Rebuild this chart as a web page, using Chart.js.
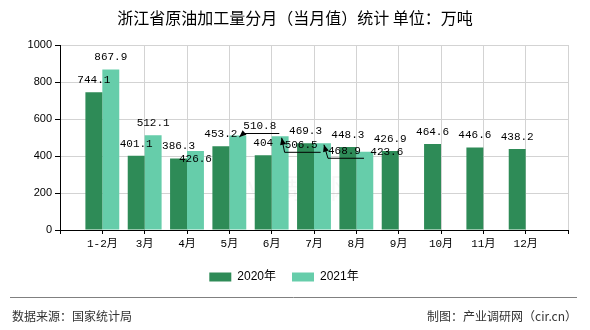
<!DOCTYPE html>
<html>
<head>
<meta charset="utf-8">
<script src="https://cdn.jsdelivr.net/npm/chart.js@4/dist/chart.umd.min.js"></script>
<style>
  html, body { margin: 0; padding: 0; background: #fff; }
</style>
</head>
<body>
<canvas id="chart" width="590" height="330"></canvas>
<script>
const categories = ["1-2月", "3月", "4月", "5月", "6月", "7月", "8月", "9月", "10月", "11月", "12月"];
const values2020 = [744.1, 401.1, 386.3, 453.2, 404, 469.3, 448.3, 426.9, 464.6, 446.6, 438.2];
const values2021 = [867.9, 512.1, 426.6, 510.8, 506.5, 468.9, 423.6];
const yTicks = [0, 200, 400, 600, 800, 1000];
const seriesNames = ["2020年", "2021年"];

// where the value labels were pushed aside in the picture
const labelNudge = [
  { series: 1, cat: "4月", dx: 0, dy: 20, leader: false },
  { series: 1, cat: "5月", dx: 22, dy: 3, leader: true },
  { series: 1, cat: "6月", dx: 21, dy: 21, leader: true },
  { series: 1, cat: "7月", dx: 22, dy: 20, leader: true },
  { series: 1, cat: "8月", dx: 22, dy: 12, leader: false }
];

// one empty slot on each side, like the original axis
const labels = [""].concat(categories, [""]);
function pad(arr) {
  var out = [null];
  for (var i = 0; i < categories.length; i++) {
    out.push(i < arr.length ? arr[i] : null);
  }
  out.push(null);
  return out;
}

const valueLabels = {
  id: "valueLabels",
  afterDatasetsDraw(chart) {
    const ctx = chart.ctx;
    ctx.save();
    ctx.font = '11px "Liberation Mono", monospace';
    ctx.fillStyle = "#000";
    ctx.strokeStyle = "#000";
    ctx.lineWidth = 1;
    ctx.textAlign = "center";
    ctx.textBaseline = "middle";
    chart.data.datasets.forEach((ds, di) => {
      const meta = chart.getDatasetMeta(di);
      meta.data.forEach((bar, i) => {
        const v = ds.data[i];
        if (v === null || v === undefined) return;
        const txt = String(v);
        let cx = bar.x, cy = bar.y - 12;
        const n = labelNudge.find(o => o.series === di && o.cat === labels[i]);
        if (n) { cx += n.dx; cy += n.dy; }
        ctx.fillText(txt, cx, cy);
        if (n && n.leader) {
          const w = ctx.measureText(txt).width;
          const left = cx - w / 2, right = cx + w / 2;
          const tipX = bar.x + 1.5, tipY = bar.y + 1.5;
          const ex = left, ey = cy + 7;
          ctx.beginPath();
          ctx.moveTo(right + 3, ey);
          ctx.lineTo(ex, ey);
          ctx.lineTo(tipX, tipY);
          ctx.stroke();
          const ang = Math.atan2(tipY - ey, tipX - ex);
          ctx.beginPath();
          ctx.moveTo(tipX, tipY);
          ctx.lineTo(tipX - 7 * Math.cos(ang) + 3 * Math.sin(ang), tipY - 7 * Math.sin(ang) - 3 * Math.cos(ang));
          ctx.lineTo(tipX - 7 * Math.cos(ang) - 3 * Math.sin(ang), tipY - 7 * Math.sin(ang) + 3 * Math.cos(ang));
          ctx.closePath();
          ctx.fill();
        }
      });
    });
    ctx.restore();
  }
};

const frame = {
  id: "frame",
  beforeDatasetsDraw(chart) {
    const ctx = chart.ctx;
    ctx.save();
    ctx.font = '28px "Noto Sans CJK SC"';
    ctx.fillStyle = "rgba(120,120,120,0.05)";
    ctx.textAlign = "center";
    ctx.textBaseline = "middle";
    ctx.fillText("产业调研网", 288, 188);
    ctx.restore();
  },
  afterDraw(chart) {
    const ctx = chart.ctx;
    ctx.save();
    ctx.fillStyle = "#000";
    ctx.textBaseline = "middle";
    ctx.textAlign = "center";
    ctx.font = '16px "Noto Sans CJK SC"';
    ctx.fillText("浙江省原油加工量分月（当月值）统计 单位：万吨", 295, 18);

    ctx.strokeStyle = "#808080";
    ctx.lineWidth = 1;
    ctx.beginPath();
    ctx.moveTo(10, 297.5);
    ctx.lineTo(577, 297.5);
    ctx.stroke();

    ctx.fillStyle = "#333";
    ctx.font = '12px "Noto Sans CJK SC"';
    ctx.textAlign = "left";
    ctx.fillText("数据来源：国家统计局", 12, 316);
    ctx.textAlign = "right";
    ctx.fillText("制图：产业调研网（cir.cn）", 577, 316);
    ctx.restore();
  }
};

new Chart(document.getElementById("chart"), {
  type: "bar",
  data: {
    labels: labels,
    datasets: [
      { label: seriesNames[0], data: pad(values2020), backgroundColor: "#2e8b57" },
      { label: seriesNames[1], data: pad(values2021), backgroundColor: "#66cdaa" }
    ]
  },
  plugins: [valueLabels, frame],
  options: {
    responsive: false,
    animation: false,
    devicePixelRatio: 1,
    layout: { padding: { top: 45, left: 0, right: 22, bottom: 37 } },
    datasets: { bar: { categoryPercentage: 0.8, barPercentage: 1.0 } },
    scales: {
      x: {
        offset: false,
        grid: {
          offset: false,
          color: c => (c.index === 1 ? "rgba(0,0,0,0)" : "#d3d3d3"),
          tickColor: "#000",
          tickLength: 4
        },
        border: { color: "#000" },
        ticks: {
          autoSkip: false,
          maxRotation: 0,
          padding: 3,
          color: "#000",
          font: { family: '"Liberation Mono", "Noto Sans CJK SC"', size: 11 }
        },
        afterFit(scale) { scale.height = 25; }
      },
      y: {
        min: 0,
        max: 1000,
        afterBuildTicks(scale) { scale.ticks = yTicks.map(v => ({ value: v })); },
        grid: { color: "#d3d3d3", tickColor: "#000", tickLength: 5 },
        border: { color: "#000" },
        ticks: {
          padding: 3,
          color: "#000",
          font: { family: '"Liberation Sans", Arial', size: 11 },
          callback: v => String(v)
        },
        afterFit(scale) { scale.width = 60; }
      }
    },
    plugins: {
      title: { display: false },
      tooltip: { enabled: false },
      legend: {
        position: "bottom",
        labels: {
          boxWidth: 22,
          boxHeight: 9,
          padding: 16,
          color: "#000",
          font: { family: '"Liberation Sans", "Noto Sans CJK SC"', size: 12 }
        }
      }
    }
  }
});
</script>
</body>
</html>
